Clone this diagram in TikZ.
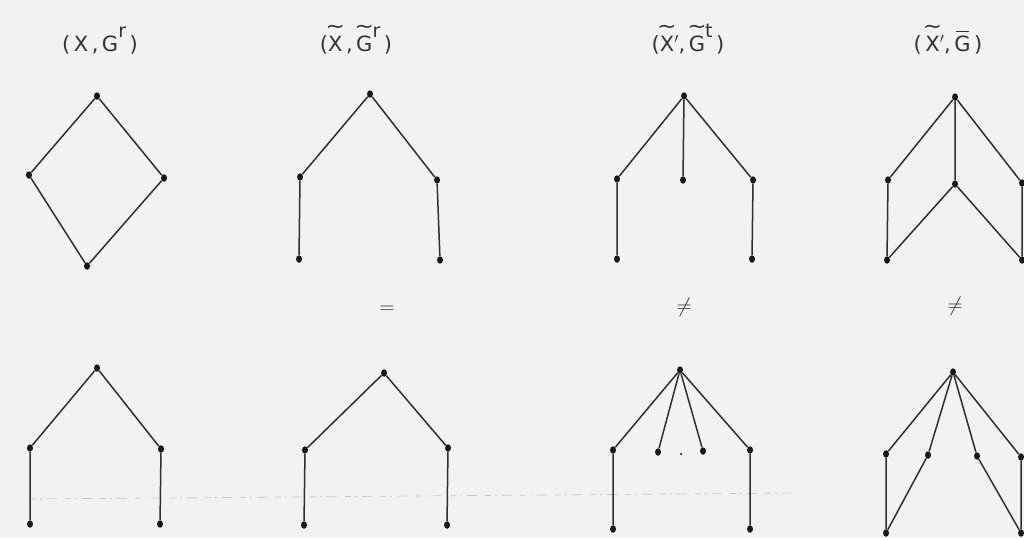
\documentclass[tikz,border=0pt]{standalone}
\usepackage{fontspec}
\usetikzlibrary{shapes.geometric}
\setmainfont{DejaVu Sans}
\newcommand{\tlover}[1]{\ooalign{#1\cr\hidewidth\raisebox{0.82em}{\scalebox{1.1}[1.0]{\char"007E}}\hidewidth\cr}}
\newcommand{\barover}[1]{\ooalign{#1\cr\hidewidth\rule[0.9em]{0.6em}{0.06em}\hidewidth\cr}}
\newcommand{\sups}[1]{\raisebox{0.62em}{\fontsize{19}{19}\selectfont #1}}
\begin{document}
\begin{tikzpicture}[x=1pt,y=-1pt,
  vtx/.style={ellipse,fill=black!90,inner sep=0pt,minimum width=6pt,minimum height=7.5pt},
  edge/.style={draw=black!82,line width=1.5pt},
  lbl/.style={font=\fontsize{21}{21}\selectfont,text=black!80,inner sep=0pt,anchor=base},
  rel/.style={font=\fontsize{20}{20}\selectfont,text=black!85,inner sep=0pt},
  scan/.style={draw=black!22,line width=0.7pt,dash pattern=on 6pt off 4pt on 2pt off 5pt on 10pt off 8pt}]
\fill[black!5] (0,0) rectangle (1024,538);
\useasboundingbox (0,0) rectangle (1024,538);

% labels
\node[lbl] (l1) at (100,51) {(\,X\,,\,G\sups{r}\,)};
\node[lbl] (l2) at (356,51) {(\tlover{X}\,,\,\tlover{G}\sups{r}\,)};
\node[lbl] (l3) at (688,51) {(\tlover{X}$'$,\,\tlover{G}\sups{t}\,)};
\node[lbl] (l4) at (948,51) {(\,\tlover{X}$'$,\,\barover{G}\,)};

% relation symbols
\node[rel] (r2) at (387,310) {$=$};
\node[rel] (r3) at (684,307) {$\neq$};
\node[rel] (r4) at (955,306) {$\neq$};

% faint scan line
\coordinate (s1) at (30,499);
\coordinate (s2) at (800,493);
\draw[scan] (s1) -- (s2);

% ---- top row ----
% graph 1 (diamond)
\node[vtx] (a1) at (97,96) {};
\node[vtx] (a2) at (29,175) {};
\node[vtx] (a3) at (164,178) {};
\node[vtx] (a4) at (87,266) {};
\draw[edge] (a1)--(a2) (a1)--(a3) (a2)--(a4) (a3)--(a4);

% graph 2
\node[vtx] (b1) at (370,94) {};
\node[vtx] (b2) at (300,177) {};
\node[vtx] (b3) at (437,180) {};
\node[vtx] (b4) at (299,259) {};
\node[vtx] (b5) at (440,260) {};
\draw[edge] (b1)--(b2) (b1)--(b3) (b2)--(b4) (b3)--(b5);

% graph 3
\node[vtx] (c1) at (684,96) {};
\node[vtx] (c2) at (617,179) {};
\node[vtx] (c3) at (683,180) {};
\node[vtx] (c4) at (753,180) {};
\node[vtx] (c5) at (617,259) {};
\node[vtx] (c6) at (752,259) {};
\draw[edge] (c1)--(c2) (c1)--(c3) (c1)--(c4) (c2)--(c5) (c4)--(c6);

% graph 4
\node[vtx] (d1) at (955,97) {};
\node[vtx] (d2) at (888,180) {};
\node[vtx] (d3) at (955,184) {};
\node[vtx] (d4) at (1022,183) {};
\node[vtx] (d5) at (887,260) {};
\node[vtx] (d6) at (1022,260) {};
\draw[edge] (d1)--(d2) (d1)--(d3) (d1)--(d4) (d2)--(d5) (d3)--(d5) (d3)--(d6) (d4)--(d6);

% ---- bottom row ----
% graph 1
\node[vtx] (e1) at (97,368) {};
\node[vtx] (e2) at (30,448) {};
\node[vtx] (e3) at (161,449) {};
\node[vtx] (e4) at (30,524) {};
\node[vtx] (e5) at (160,524) {};
\draw[edge] (e1)--(e2) (e1)--(e3) (e2)--(e4) (e3)--(e5);

% graph 2
\node[vtx] (f1) at (384,373) {};
\node[vtx] (f2) at (305,450) {};
\node[vtx] (f3) at (448,448) {};
\node[vtx] (f4) at (304,525) {};
\node[vtx] (f5) at (447,525) {};
\draw[edge] (f1)--(f2) (f1)--(f3) (f2)--(f4) (f3)--(f5);

% graph 3
\node[vtx] (g1) at (680,370) {};
\node[vtx] (g2) at (613,450) {};
\node[vtx] (g3) at (658,452) {};
\node[circle,fill=black!85,inner sep=0pt,minimum size=2.5pt] (g0) at (681,454) {};
\node[vtx] (g4) at (703,451) {};
\node[vtx] (g5) at (750,450) {};
\node[vtx] (g6) at (613,529) {};
\node[vtx] (g7) at (750,529) {};
\draw[edge] (g1)--(g2) (g1)--(g3) (g1)--(g4) (g1)--(g5) (g2)--(g6) (g5)--(g7);

% graph 4
\node[vtx] (h1) at (953,372) {};
\node[vtx] (h2) at (886,454) {};
\node[vtx] (h3) at (928,455) {};
\node[vtx] (h4) at (977,456) {};
\node[vtx] (h5) at (1021,457) {};
\node[vtx] (h6) at (886,533) {};
\node[vtx] (h7) at (1021,533) {};
\draw[edge] (h1)--(h2) (h1)--(h3) (h1)--(h4) (h1)--(h5) (h2)--(h6) (h3)--(h6) (h4)--(h7) (h5)--(h7);
\end{tikzpicture}
\end{document}
